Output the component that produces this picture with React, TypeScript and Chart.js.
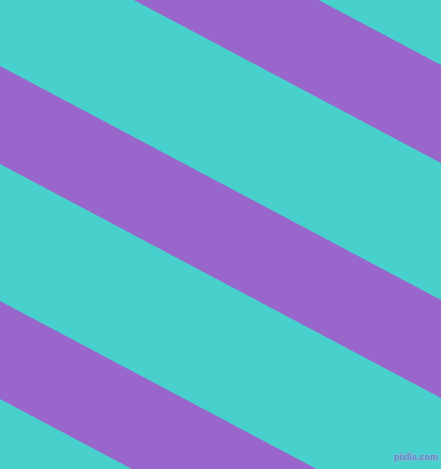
import { useEffect, useRef } from 'react'
import { Chart, registerables } from 'chart.js'

Chart.register(...registerables)

// x positions of the two edges (pixels of the picture)
const edgeX = [0, 441]

// y of each stripe boundary at the left and right edge
const stripeTopLeft = [-169, 66, 301]
const stripeTopRight = [65, 300, 535]
const stripeBottomLeft = [-71, 164, 399]
const stripeBottomRight = [163, 398, 633]

const watermark = 'pixlis.com'

const TURQUOISE = '#48D1CC'
const PURPLE = '#9966CC'

const watermarkPlugin = {
  id: 'watermark',
  afterDraw(chart: Chart) {
    const { ctx } = chart
    ctx.save()
    ctx.font = 'bold 9px "Liberation Sans"'
    ctx.textAlign = 'right'
    ctx.textBaseline = 'alphabetic'
    ctx.lineWidth = 1.5
    ctx.strokeStyle = 'rgba(150,180,225,0.7)'
    ctx.strokeText(watermark, 438, 460)
    ctx.fillStyle = '#6088c0'
    ctx.fillText(watermark, 438, 460)
    ctx.restore()
  },
}

export default function App() {
  const canvasRef = useRef<HTMLCanvasElement>(null)

  useEffect(() => {
    document.body.style.margin = '0'
    if (!canvasRef.current) return

    const datasets: any[] = []
    stripeTopLeft.forEach((_, i) => {
      datasets.push({
        label: `stripe ${i + 1} top`,
        data: [
          { x: edgeX[0], y: stripeTopLeft[i] },
          { x: edgeX[1], y: stripeTopRight[i] },
        ],
        borderWidth: 0,
        pointRadius: 0,
        backgroundColor: PURPLE,
        fill: '+1',
      })
      datasets.push({
        label: `stripe ${i + 1} bottom`,
        data: [
          { x: edgeX[0], y: stripeBottomLeft[i] },
          { x: edgeX[1], y: stripeBottomRight[i] },
        ],
        borderWidth: 0,
        pointRadius: 0,
        fill: false,
      })
    })

    const chart = new Chart(canvasRef.current, {
      type: 'line',
      data: { datasets },
      options: {
        animation: false,
        responsive: false,
        devicePixelRatio: 1,
        layout: { padding: 0 },
        plugins: { legend: { display: false }, tooltip: { enabled: false } },
        scales: {
          x: { type: 'linear', min: 0, max: 441, display: false },
          y: { type: 'linear', min: 0, max: 469, reverse: true, display: false },
        },
      },
      plugins: [watermarkPlugin],
    })

    return () => { chart.destroy() }
  }, [])

  return (
    <div style={{ position: 'fixed', left: 0, top: 0, width: 441, height: 469, background: TURQUOISE }}>
      <canvas ref={canvasRef} width={441} height={469} />
    </div>
  )
}
